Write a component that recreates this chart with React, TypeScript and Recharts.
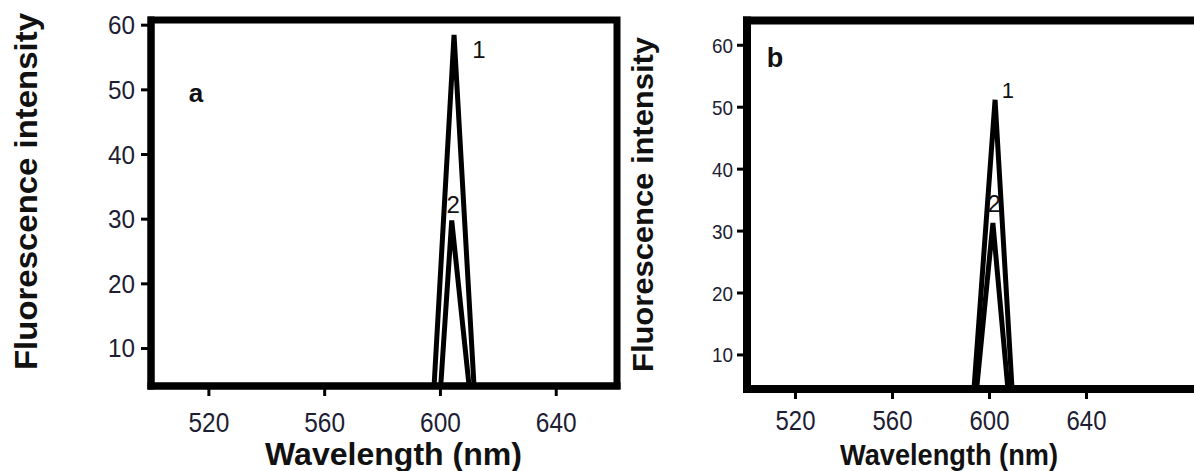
import React from 'react';
import { LineChart, Line, XAxis, YAxis, ReferenceDot, ReferenceArea, Label } from 'recharts';

// panel a: spectrum 1 and 2 (wavelength in nm, fluorescence intensity)
const A1_WAVE = [597.8, 604.7, 611.6];
const A1_INT = [4.2, 58.5, 4.2];
const A2_WAVE = [600.1, 603.9, 609.9];
const A2_INT = [4.2, 29.8, 4.2];

// panel b
const B1_WAVE = [593.6, 602.3, 609.3];
const B1_INT = [4.5, 51.2, 4.5];
const B2_WAVE = [594.7, 601.4, 607.6];
const B2_INT = [4.5, 31.3, 4.5];

const X_TICKS = [520, 560, 600, 640];
const Y_TICKS = [10, 20, 30, 40, 50, 60];

const X_TITLE = 'Wavelength (nm)';
const Y_TITLE = 'Fluorescence  intensity';

const SANS = '"Liberation Sans", Arial, Helvetica, sans-serif';
const TICK_COLOR = '#1d1d33';
const INK = '#111';

type Pt = { x: number; y: number };
const zip = (xs: number[], ys: number[]): Pt[] => xs.map((x, i) => ({ x, y: ys[i] }));

interface Note {
  text: string;
  x: number;
  y: number;
  size: number;
  bold?: boolean;
}

interface PanelCfg {
  left: number;
  width: number;
  margin: { top: number; right: number; bottom: number; left: number };
  yAxisWidth: number;
  xAxisHeight: number;
  xDomain: [number, number];
  yDomain: [number, number];
  series: Pt[][];
  notes: Note[];
  xTick: { size: number; digitW: number; margin: number };
  yTick: { size: number; digitW: number; margin: number };
  frame: number;
  yTitle: { cx: number; cy: number; size: number; length: number };
  xTitle: { cx: number; base: number; size: number; length: number };
}

const PANELS: PanelCfg[] = [
  {
    left: 0,
    width: 640,
    margin: { top: 20, right: 23, bottom: 0, left: 0 },
    yAxisWidth: 151,
    xAxisHeight: 85,
    xDomain: [500, 661],
    yDomain: [4.2, 60.8],
    series: [zip(A1_WAVE, A1_INT), zip(A2_WAVE, A2_INT)],
    notes: [
      { text: 'a', x: 515.5, y: 49.6, size: 26, bold: true },
      { text: '1', x: 613.3, y: 56.3, size: 24 },
      { text: '2', x: 604.4, y: 32.2, size: 24 },
    ],
    xTick: { size: 28, digitW: 13.6, margin: 16 },
    yTick: { size: 25, digitW: 13.5, margin: 6 },
    frame: 7,
    yTitle: { cx: 26, cy: 191.5, size: 32, length: 357 },
    xTitle: { cx: 393.5, base: 465, size: 32, length: 257 },
  },
  {
    left: 600,
    width: 640,
    margin: { top: 20.5, right: 32.25, bottom: 0, left: 0 },
    yAxisWidth: 147,
    xAxisHeight: 82,
    xDomain: [500, 690],
    yDomain: [4.5, 64],
    series: [zip(B1_WAVE, B1_INT), zip(B2_WAVE, B2_INT)],
    notes: [
      { text: 'b', x: 511.5, y: 58.1, size: 27, bold: true },
      { text: '1', x: 607.6, y: 52.8, size: 22 },
      { text: '2', x: 601.9, y: 34.4, size: 24 },
    ],
    xTick: { size: 28, digitW: 13.3, margin: 11 },
    yTick: { size: 21, digitW: 10.5, margin: 4 },
    frame: 8,
    yTitle: { cx: 42.5, cy: 204.5, size: 30, length: 335 },
    xTitle: { cx: 349, base: 465, size: 30, length: 218 },
  },
];

function XTick(props: any) {
  const { x, y, payload, size, digitW } = props;
  const s = String(payload.value);
  return (
    <text x={x} y={y} dy="0.71em" textAnchor="middle" fontSize={size} fontFamily={SANS}
      fill={TICK_COLOR} textLength={s.length * digitW} lengthAdjust="spacingAndGlyphs">
      {s}
    </text>
  );
}

function YTick(props: any) {
  const { x, y, payload, size, digitW } = props;
  const s = String(payload.value);
  return (
    <text x={x} y={y} dy="0.36em" textAnchor="end" fontSize={size} fontFamily={SANS}
      fill={TICK_COLOR} textLength={s.length * digitW} lengthAdjust="spacingAndGlyphs">
      {s}
    </text>
  );
}

const frameLine = (w: number) => ({ stroke: '#000', strokeWidth: w, strokeLinecap: 'square' as const });
const tickMark = { stroke: '#000', strokeWidth: 3 };

function Panel({ cfg }: { cfg: PanelCfg }) {
  const { yTitle, xTitle } = cfg;
  return (
    <div style={{ position: 'absolute', left: cfg.left, top: 0 }}>
      <LineChart width={cfg.width} height={471} margin={cfg.margin}>
        <XAxis type="number" dataKey="x" domain={cfg.xDomain} ticks={X_TICKS} allowDataOverflow
          height={cfg.xAxisHeight} tickSize={10} tickMargin={cfg.xTick.margin}
          axisLine={frameLine(cfg.frame)} tickLine={tickMark}
          tick={<XTick size={cfg.xTick.size} digitW={cfg.xTick.digitW} />}>
          <Label content={() => (
            <text x={xTitle.cx} y={xTitle.base} textAnchor="middle" fontSize={xTitle.size}
              fontWeight="bold" fontFamily={SANS} fill={INK}
              textLength={xTitle.length} lengthAdjust="spacingAndGlyphs">
              {X_TITLE}
            </text>
          )} />
        </XAxis>
        <YAxis type="number" domain={cfg.yDomain} ticks={Y_TICKS} allowDataOverflow
          width={cfg.yAxisWidth} tickSize={10} tickMargin={cfg.yTick.margin}
          axisLine={frameLine(cfg.frame)} tickLine={tickMark}
          tick={<YTick size={cfg.yTick.size} digitW={cfg.yTick.digitW} />}>
          <Label content={() => (
            <text x={yTitle.cx} y={yTitle.cy} transform={`rotate(-90 ${yTitle.cx} ${yTitle.cy})`}
              textAnchor="middle" dominantBaseline="central" fontSize={yTitle.size}
              fontWeight="bold" fontFamily={SANS} fill={INK}
              textLength={yTitle.length} lengthAdjust="spacingAndGlyphs">
              {Y_TITLE}
            </text>
          )} />
        </YAxis>
        {/* plot frame */}
        <ReferenceArea x1={cfg.xDomain[0]} x2={cfg.xDomain[1]} y1={cfg.yDomain[0]} y2={cfg.yDomain[1]}
          ifOverflow="visible" fill="none" fillOpacity={0} stroke="#000" strokeWidth={cfg.frame} />
        {cfg.series.map((pts, i) => (
          <Line key={i} data={pts} dataKey="y" type="linear" stroke="#000" strokeWidth={5}
            dot={false} activeDot={false} isAnimationActive={false} />
        ))}
        {cfg.notes.map((n, i) => (
          <ReferenceDot key={i} x={n.x} y={n.y} r={0} fill="none" stroke="none"
            label={{ value: n.text, position: 'center', fontSize: n.size, fontFamily: SANS,
              fontWeight: n.bold ? 'bold' : 'normal', fill: INK }} />
        ))}
      </LineChart>
    </div>
  );
}

export default function App() {
  return (
    <div style={{ position: 'relative', width: 1194, height: 471, overflow: 'hidden', background: '#fff' }}>
      <style>{'body{margin:0}'}</style>
      {PANELS.map((p, i) => (
        <Panel key={i} cfg={p} />
      ))}
    </div>
  );
}
